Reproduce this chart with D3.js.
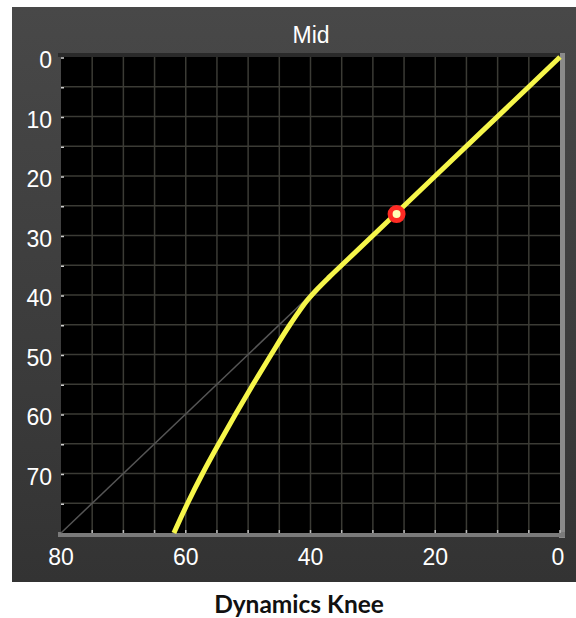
<!DOCTYPE html>
<html>
<head>
<meta charset="utf-8">
<script src="https://cdn.jsdelivr.net/npm/d3@7"></script>
<style>
    body { margin: 0; background: #fff; }
    svg { display: block; }
</style>
</head>
<body>
<svg id="Target" width="576" height="618"></svg>
<script>
// knee curve, input level (dB below 0) vs output level
var inputLevels = [0, 20, 34, 37, 38.9, 40.6, 42, 43.3, 46.3, 49.2, 52, 54.7, 57.3, 59.7, 61.9];
var outputLevels = [0, 20, 34, 37, 39, 41, 43, 45, 50, 55, 60, 65, 70, 75, 80];
// unity reference line (only visible below the knee)
var unityLine = [[80, 80], [40, 40]];
// current signal position
var markerPoint = [26.2, 26.4];
var xTickLabels = [80, 60, 40, 20, 0];
var yTickLabels = [0, 10, 20, 30, 40, 50, 60, 70];
var gridSteps = d3.range(5, 80, 5);
var chartTitle = "Mid";
var caption = "Dynamics Knee";

var svg = d3.select("#Target");
var font = "'Liberation Sans', Arial, sans-serif";

var defs = svg.append("defs");
var grad = defs.append("linearGradient")
    .attr("id", "panelGrad")
    .attr("x1", 0).attr("y1", 0).attr("x2", 0).attr("y2", 1);
grad.append("stop").attr("offset", "0%").attr("stop-color", "#484848");
grad.append("stop").attr("offset", "100%").attr("stop-color", "#333333");

// dark panel
svg.append("rect")
    .attr("x", 12).attr("y", 7)
    .attr("width", 564).attr("height", 575)
    .attr("fill", "url(#panelGrad)");

var x = d3.scaleLinear().domain([80, 0]).range([61, 560]);
var y = d3.scaleLinear().domain([0, 80]).range([57, 533]);

// bevel on right and bottom
svg.append("rect")
    .attr("x", x(0) - 1).attr("y", y(0) - 4)
    .attr("width", 6).attr("height", y(80) - y(0) + 9)
    .attr("fill", "#8a8a8a");
svg.append("rect")
    .attr("x", x(80) - 3).attr("y", y(80) - 1)
    .attr("width", x(0) - x(80) + 8).attr("height", 5)
    .attr("fill", "#7a7a7a");
// top shadow
svg.append("rect")
    .attr("x", x(80) - 3).attr("y", y(0) - 4)
    .attr("width", x(0) - x(80) + 3).attr("height", 4)
    .attr("fill", "#2a2a2a");

// plot area
svg.append("rect")
    .attr("x", x(80)).attr("y", y(0))
    .attr("width", x(0) - x(80)).attr("height", y(80) - y(0))
    .attr("fill", "#000");

// grid
var grid = svg.append("g");
grid.selectAll("line.v")
    .data(gridSteps)
    .enter()
    .append("line")
    .attr("x1", function (d) { return x(d); })
    .attr("x2", function (d) { return x(d); })
    .attr("y1", y(0))
    .attr("y2", y(80))
    .attr("stroke", "#3b3b35")
    .attr("stroke-width", 1.5);
grid.selectAll("line.h")
    .data(gridSteps)
    .enter()
    .append("line")
    .attr("y1", function (d) { return y(d); })
    .attr("y2", function (d) { return y(d); })
    .attr("x1", x(80))
    .attr("x2", x(0))
    .attr("stroke", "#3b3b35")
    .attr("stroke-width", 1.5);

// small tick marks
svg.selectAll("line.ytick")
    .data(d3.range(0, 80, 5))
    .enter()
    .append("line")
    .attr("x1", x(80)).attr("x2", x(80) + 3)
    .attr("y1", function (d) { return y(d) + 1; })
    .attr("y2", function (d) { return y(d) + 1; })
    .attr("stroke", "#cfcfcf")
    .attr("stroke-width", 1.5);
svg.selectAll("line.xtick")
    .data(gridSteps.concat([0]))
    .enter()
    .append("line")
    .attr("x1", function (d) { return x(d); })
    .attr("x2", function (d) { return x(d); })
    .attr("y1", y(80) - 3).attr("y2", y(80))
    .attr("stroke", "#bdbdbd")
    .attr("stroke-width", 1.5);

// unity line
svg.append("path")
    .attr("d", d3.line().x(function (d) { return x(d[0]); }).y(function (d) { return y(d[1]); })(unityLine))
    .attr("stroke", "#555555")
    .attr("stroke-width", 1.5)
    .attr("fill", "none");

// knee curve
var kneeData = inputLevels.map(function (v, i) { return [v, outputLevels[i]]; });
var lineGenerator = d3.line()
    .x(function (d) { return x(d[0]); })
    .y(function (d) { return y(d[1]); })
    .curve(d3.curveMonotoneY);
svg.append("path")
    .attr("d", lineGenerator(kneeData))
    .attr("stroke", "#f6f64a")
    .attr("stroke-width", 5)
    .attr("stroke-linecap", "butt")
    .attr("fill", "none");

// marker
svg.append("circle")
    .attr("cx", x(markerPoint[0]))
    .attr("cy", y(markerPoint[1]))
    .attr("r", 6.5)
    .attr("fill", "#ffffb8")
    .attr("stroke", "#ff2b24")
    .attr("stroke-width", 5);

// axis labels
svg.selectAll("text.ylab")
    .data(yTickLabels)
    .enter()
    .append("text")
    .attr("x", 52)
    .attr("y", function (d) { return y(d) + 11; })
    .attr("text-anchor", "end")
    .attr("font-family", font)
    .attr("font-size", 23)
    .attr("fill", "#fff")
    .text(function (d) { return d; });
svg.selectAll("text.xlab")
    .data(xTickLabels)
    .enter()
    .append("text")
    .attr("x", function (d) { return d === 0 ? x(d) - 2 : x(d); })
    .attr("y", 565)
    .attr("text-anchor", "middle")
    .attr("font-family", font)
    .attr("font-size", 23)
    .attr("fill", "#fff")
    .text(function (d) { return d; });

// title
svg.append("text")
    .attr("x", 311)
    .attr("y", 43)
    .attr("text-anchor", "middle")
    .attr("font-family", font)
    .attr("font-size", 23)
    .attr("fill", "#fff")
    .text(chartTitle);

// caption below the panel
svg.append("text")
    .attr("x", 299)
    .attr("y", 613)
    .attr("text-anchor", "middle")
    .attr("font-family", "Lato, 'Open Sans', sans-serif")
    .attr("font-weight", "bold")
    .attr("font-size", 24.5)
    .attr("fill", "#111")
    .text(caption);
</script>
</body>
</html>
